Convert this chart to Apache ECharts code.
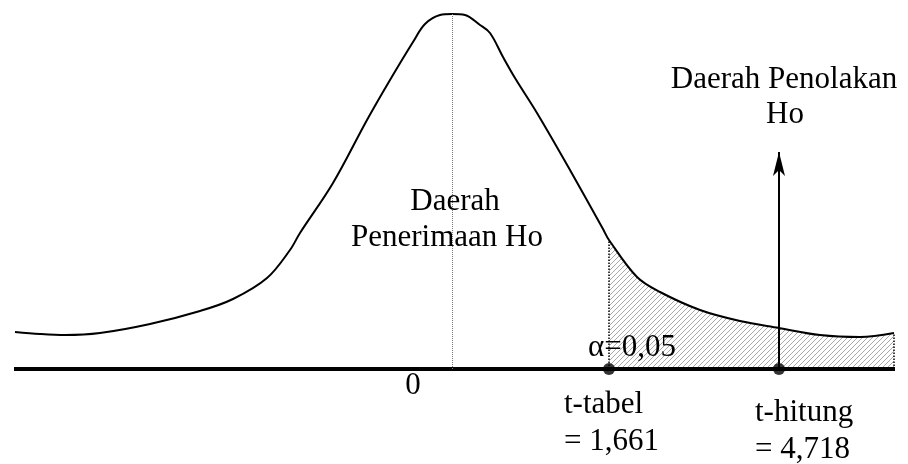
<!DOCTYPE html>
<html>
<head>
<meta charset="utf-8">
<script src="https://cdn.jsdelivr.net/npm/echarts@6/dist/echarts.min.js"></script>
<style>
  html, body { margin: 0; padding: 0; background: #fff; }
  #chart { width: 908px; height: 464px; }
</style>
</head>
<body>
<div id="chart"></div>
<script>
// kurva distribusi t (posisi relatif terhadap pusat, tinggi di atas sumbu)
const curveX = [-437, -412, -387, -352, -302, -252, -219, -185, -162, -152, -119, -85, -62, -39, -27, -12, 0,
  13, 28, 38, 51, 63, 85, 118, 151, 157, 185, 208, 248, 288, 327, 368, 408, 442];
const curveY = [37, 35, 34, 36, 45, 58, 70, 91, 119, 136, 186, 249, 289, 327, 345, 354, 355,
  354, 344, 336, 312, 291, 256, 199, 140, 129, 92, 77, 59, 48, 41, 34, 32, 36];

const axisStart = -438;
const axisEnd = 443;
const tTabelPos = 157;   // t-tabel = 1,661
const tHitungPos = 327;  // t-hitung = 4,718
const arrowTop = 217;
const tailEnd = 442;

const curve = curveX.map((x, i) => [x, curveY[i]]);
const tail = curve.filter(p => p[0] >= tTabelPos);
const tailStartY = curveY[curveX.indexOf(tTabelPos)];
const tailEndY = curveY[curveX.indexOf(tailEnd)];
const peakY = Math.max(...curveY);

// pola arsir
const hatch = document.createElement('canvas');
hatch.width = 5; hatch.height = 5;
const hc = hatch.getContext('2d');
hc.strokeStyle = '#a8a8a8';
hc.lineWidth = 1;
hc.beginPath();
hc.moveTo(0, 5); hc.lineTo(5, 0);
hc.moveTo(-1, 1); hc.lineTo(1, -1);
hc.moveTo(4, 6); hc.lineTo(6, 4);
hc.stroke();

const font = '"Liberation Serif", "Times New Roman", serif';
function txt(text, x, y, align) {
  return {
    type: 'text', x: x, y: y, z: 100,
    style: { text: text, font: '31px ' + font, fill: '#000', align: align || 'center', verticalAlign: 'middle' }
  };
}

const myChart = echarts.init(document.getElementById('chart'));
const option = {
  animation: false,
  grid: { left: 0, right: 0, top: 0, bottom: 95 },
  xAxis: { type: 'value', min: -452, max: 456, show: false },
  yAxis: { type: 'value', min: 0, max: 369, show: false },
  series: [
    {
      type: 'line', data: tail, smooth: 0.35, symbol: 'none', z: 1,
      lineStyle: { width: 0 },
      areaStyle: { color: { image: hatch, repeat: 'repeat' }, opacity: 1 },
      markLine: {
        silent: true, symbol: 'none', label: { show: false },
        lineStyle: { type: 'dotted', color: '#000', width: 1.5 },
        data: [
          [{ coord: [tTabelPos, 0] }, { coord: [tTabelPos, tailStartY] }],
          [{ coord: [tailEnd, 0] }, { coord: [tailEnd, tailEndY] }]
        ]
      }
    },
    {
      type: 'line', data: curve, smooth: 0.35, symbol: 'none', z: 3,
      lineStyle: { color: '#000', width: 2 },
      markLine: {
        silent: true, symbol: 'none', label: { show: false },
        lineStyle: { type: 'dotted', color: '#777', width: 1 },
        data: [[{ coord: [0, 0] }, { coord: [0, peakY] }]]
      }
    },
    {
      type: 'line', data: [[axisStart, 0], [axisEnd, 0]], symbol: 'none', z: 4,
      lineStyle: { color: '#000', width: 4 },
      markLine: {
        silent: true, symbol: ['none', 'arrow'], symbolSize: [9, 24], label: { show: false },
        lineStyle: { type: 'solid', color: '#000', width: 2 },
        data: [[{ coord: [tHitungPos, 0] }, { coord: [tHitungPos, arrowTop] }]]
      }
    },
    {
      type: 'scatter', data: [[tTabelPos, 0], [tHitungPos, 0]], symbolSize: 12, z: 5,
      itemStyle: { color: '#000' }
    }
  ],
  graphic: [
    txt('Daerah Penolakan', 784, 80),
    txt('Ho', 785, 115),
    txt('Daerah', 455, 202),
    txt('Penerimaan Ho', 447, 238),
    txt('0', 413, 386),
    txt('\u03b1=0,05', 588, 348, 'left'),
    txt('t-tabel', 564, 405, 'left'),
    txt('= 1,661', 564, 442, 'left'),
    txt('t-hitung', 755, 413, 'left'),
    txt('= 4,718', 755, 450, 'left')
  ]
};
myChart.setOption(option);
</script>
</body>
</html>
